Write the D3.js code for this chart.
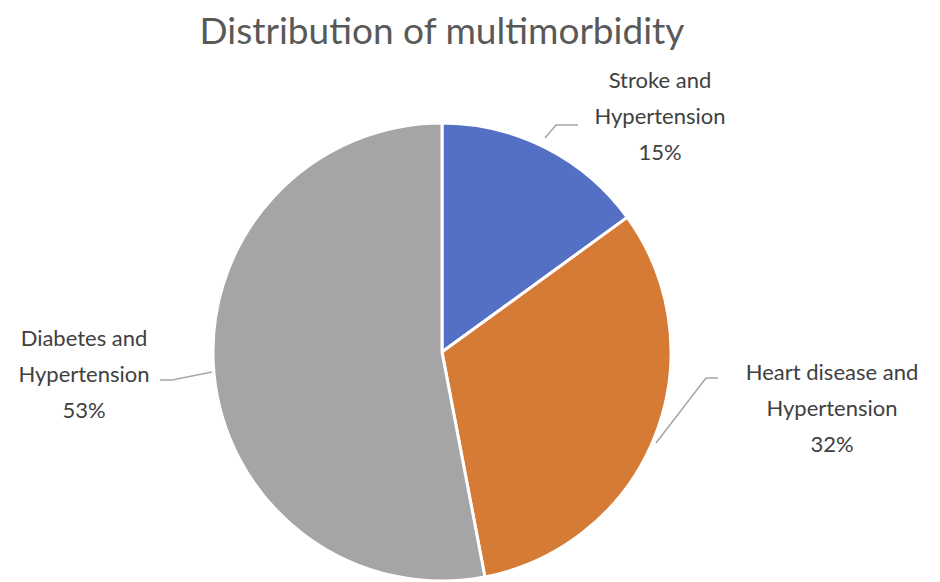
<!DOCTYPE html>
<html>
<head>
<meta charset="utf-8">
<script src="https://cdn.jsdelivr.net/npm/d3@7"></script>
<style>
  body { margin: 0; background: #fff; }
  text { font-family: Lato, "Open Sans", sans-serif; }
</style>
</head>
<body>
<svg width="940" height="582"></svg>
<script>
var svg = d3.select("svg"),
    width = +svg.attr("width"),
    height = +svg.attr("height");

const categories = ["Stroke and Hypertension", "Heart disease and Hypertension", "Diabetes and Hypertension"];
const labelLines = [["Stroke and", "Hypertension"], ["Heart disease and", "Hypertension"], ["Diabetes and", "Hypertension"]];
const values = [15, 32, 53];
const colors = ["#5470C4", "#D57B36", "#A5A5A5"];

// label anchor positions (centre of text block, first line baseline)
const labelPos = [[660, 88], [832, 380], [84, 346]];
// leader lines: [label end, slice end]
const leaders = [
  [[578, 125], [556, 125], [545, 138]],
  [[718, 378], [706, 378], [656, 443]],
  [[160, 380], [172, 380], [212, 372]]
];

const cx = 442, cy = 352, r = 229;

const pie = d3.pie().sort(null).value(d => d)(values);
const arc = d3.arc().innerRadius(0).outerRadius(r);

svg.append("text")
  .attr("x", cx).attr("y", 44)
  .attr("text-anchor", "middle")
  .attr("font-size", 37)
  .attr("fill", "#595959")
  .text("Distribution of multimorbidity");

svg.append("g")
  .attr("transform", `translate(${cx},${cy})`)
  .selectAll("path")
  .data(pie)
  .enter().append("path")
  .attr("d", arc)
  .attr("fill", (d, i) => colors[i])
  .attr("stroke", "#fff")
  .attr("stroke-width", 3);

svg.append("g").selectAll("path")
  .data(leaders)
  .enter().append("path")
  .attr("d", d => d3.line()(d))
  .attr("fill", "none")
  .attr("stroke", "#A6A6A6")
  .attr("stroke-width", 1.5);

let labels = svg.append("g").selectAll("text")
  .data(values)
  .enter().append("text")
  .attr("text-anchor", "middle")
  .attr("font-size", 22)
  .attr("fill", "#404040");

labels.each(function(v, i) {
  let t = d3.select(this);
  labelLines[i].concat([v + "%"]).forEach((s, j) => {
    t.append("tspan")
      .attr("x", labelPos[i][0])
      .attr("y", labelPos[i][1] + j * 36)
      .text(s);
  });
});
</script>
</body>
</html>
